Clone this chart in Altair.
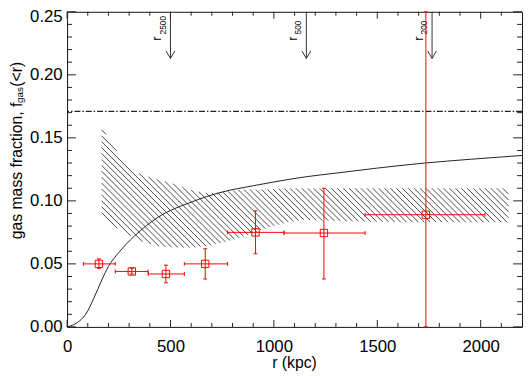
import altair as alt
import numpy as np
import pandas as pd

# ---------------- data ----------------
# measured points (red squares with error bars)
R_PT = [154, 313, 478, 668, 911, 1242, 1735]
F_PT = [0.050, 0.044, 0.042, 0.050, 0.075, 0.0745, 0.089]
R_LO = [79, 233, 392, 567, 776, 1049, 1441]
R_HI = [233, 392, 567, 776, 1049, 1441, 2021]
F_LO = [0.0465, 0.042, 0.035, 0.038, 0.058, 0.038, 0.0]
F_HI = [0.054, 0.0465, 0.049, 0.062, 0.092, 0.110, 0.25]

# model curve (solid black)
R_CURVE = [0, 50, 90, 130, 170, 200, 250, 325, 440, 600, 750, 900, 1000, 1150, 1300, 1500, 1730, 1950, 2200]
F_CURVE = [0.0, 0.0035, 0.010, 0.023, 0.038, 0.048, 0.059, 0.072, 0.087, 0.099, 0.107, 0.112, 0.115,
           0.119, 0.122, 0.126, 0.130, 0.133, 0.136]

# hatched band
R_BAND = [167, 200, 254, 286, 357, 437, 516, 611, 690, 754, 841, 976, 1071, 1143, 1300, 1600, 1900, 2135]
BAND_TOP = [0.158, 0.150, 0.136, 0.128, 0.121, 0.117, 0.1135, 0.108, 0.106, 0.107, 0.109, 0.109, 0.110,
            0.110, 0.110, 0.110, 0.110, 0.110]
BAND_BOT = [0.087, 0.083, 0.077, 0.074, 0.068, 0.064, 0.063, 0.063, 0.0645, 0.067, 0.071, 0.079, 0.083,
            0.085, 0.084, 0.083, 0.083, 0.083]

# cosmic baryon fraction line (dash-dot)
F_BARYON = [0.171]

# radius markers
R_MARK = [500, 1157, 1765]
MARK_SUB = ["2500", "500", "200"]
ARROW_TIP = 0.213

# axes
X_MAJOR = [0, 500, 1000, 1500, 2000]
X_MINOR = [v for v in range(100, 2200, 100) if v % 500 != 0]
Y_MAJOR = [0.0, 0.05, 0.10, 0.15, 0.20, 0.25]
Y_MINOR = [round(0.01 * i, 2) for i in range(1, 25) if i % 5 != 0]
X_TITLE = ["r (kpc)"]
Y_TITLE = ["gas mass fraction, f", "gas", "(<r)"]

# ---------------- layout ----------------
W, H = 462, 320
FONT = "Liberation Sans"
RED = "#ff0000"
XMAX, YMAX = 2200, 0.25

xs = alt.Scale(domain=[0, XMAX], nice=False, zero=False)
ys = alt.Scale(domain=[0, YMAX], nice=False, zero=False)
xaxis = alt.Axis(values=X_MAJOR, format="d", title=None, ticks=False, domain=False, grid=False,
                 labelFontSize=17, labelFont=FONT, labelColor="black", labelPadding=12,
                 labelFlush=False, labelOverlap=False)
yaxis = alt.Axis(values=Y_MAJOR, format=".2f", title=None, ticks=False, domain=False, grid=False,
                 labelFontSize=17, labelFont=FONT, labelColor="black", labelPadding=5,
                 labelFlush=False, labelOverlap=False,
                 labelOffset={"condition": {"test": "datum.value >= 0.249", "value": 5}, "value": 0})


def X(f):
    return alt.X(f, type="quantitative", scale=xs, axis=xaxis)


def Y(f):
    return alt.Y(f, type="quantitative", scale=ys, axis=yaxis)


# ---------------- hatching segments clipped to the band ----------------
kx, ky = W / XMAX, H / YMAX
rr = np.arange(R_BAND[0], R_BAND[-1] + 0.25, 0.25)
top_p = (YMAX - np.interp(rr, R_BAND, BAND_TOP)) * ky
bot_p = (YMAX - np.interp(rr, R_BAND, BAND_BOT)) * ky
xp = rr * kx
segs = []
for c in np.arange((top_p - xp).min(), (bot_p - xp).max(), 6.0):
    yl = xp + c
    inside = ((yl >= top_p) & (yl <= bot_p)).astype(int)
    edges = np.flatnonzero(np.diff(np.concatenate([[0], inside, [0]])))
    for s, e in zip(edges[::2], edges[1::2]):
        e = e - 1
        if e > s:
            segs.append((rr[s], YMAX - yl[s] / ky, rr[e], YMAX - yl[e] / ky))
hatch_df = pd.DataFrame(segs, columns=["r1", "f1", "r2", "f2"])

hatch = alt.Chart(hatch_df).mark_rule(color="#333333", strokeWidth=0.9).encode(
    x=X("r1"), y=Y("f1"), x2="r2", y2="f2")

curve = alt.Chart(pd.DataFrame({"r": R_CURVE, "f": F_CURVE})).mark_line(
    color="#222222", strokeWidth=1, interpolate="monotone").encode(x=X("r"), y=Y("f"))

baryon = alt.Chart(pd.DataFrame({"f": F_BARYON})).mark_rule(
    color="#222222", strokeWidth=1.3, strokeDash=[6, 2, 1.5, 2]).encode(y=Y("f"))

mk = pd.DataFrame({"r": R_MARK, "top": [YMAX] * 3, "tip": [ARROW_TIP] * 3, "sub": MARK_SUB,
                   "lr": ["r"] * 3, "fr": [0.227] * 3, "fs": [0.232] * 3})
arrow_line = alt.Chart(mk).mark_rule(color="#333333", strokeWidth=1).encode(
    x=X("r"), y=Y("top"), y2="tip")
arrow_head = alt.Chart(mk).mark_point(
    shape="M -1 -1.7 L 0 0 L 1 -1.7", filled=False, size=81, color="#333333",
    strokeWidth=1, opacity=1).encode(x=X("r"), y=Y("tip"))
r_text = alt.Chart(mk).mark_text(
    angle=270, align="left", baseline="alphabetic", dy=-9.5, fontSize=13, font=FONT,
    color="black").encode(x=X("r"), y=Y("fr"), text="lr:N")
sub_text = alt.Chart(mk).mark_text(
    angle=270, align="left", baseline="alphabetic", dy=-5, fontSize=8.5, font=FONT,
    color="black").encode(x=X("r"), y=Y("fs"), text="sub:N")

pts = pd.DataFrame({"r": R_PT, "f": F_PT, "rlo": R_LO, "rhi": R_HI, "flo": F_LO, "fhi": F_HI})
xerr = alt.Chart(pts).mark_rule(color=RED, strokeWidth=1).encode(x=X("rlo"), x2="rhi", y=Y("f"))
yerr = alt.Chart(pts).mark_rule(color=RED, strokeWidth=1).encode(x=X("r"), y=Y("flo"), y2="fhi")
cap_l = alt.Chart(pts).mark_tick(color=RED, orient="vertical", size=4, thickness=1, opacity=1).encode(
    x=X("rlo"), y=Y("f"))
cap_r = alt.Chart(pts).mark_tick(color=RED, orient="vertical", size=4, thickness=1, opacity=1).encode(
    x=X("rhi"), y=Y("f"))
cap_b = alt.Chart(pts).mark_tick(color=RED, orient="horizontal", size=4, thickness=1, opacity=1).encode(
    x=X("r"), y=Y("flo"))
cap_t = alt.Chart(pts).mark_tick(color=RED, orient="horizontal", size=4, thickness=1, opacity=1).encode(
    x=X("r"), y=Y("fhi"))
squares = alt.Chart(pts).mark_point(shape="square", size=56, filled=False, color=RED,
                                    strokeWidth=1, opacity=1).encode(x=X("r"), y=Y("f"))

# inward ticks on all four sides
xt = pd.DataFrame({"v": X_MAJOR + X_MINOR, "len": [7] * len(X_MAJOR) + [4] * len(X_MINOR)})
yt = pd.DataFrame({"v": Y_MAJOR + Y_MINOR, "len": [9] * len(Y_MAJOR) + [5] * len(Y_MINOR)})
tick_layers = []
for ln, grp in xt.groupby("len"):
    tick_layers.append(alt.Chart(grp).mark_rule(color="#222222", strokeWidth=1).encode(
        x=X("v"), y=alt.value(H), y2=alt.value(H - ln)))
    tick_layers.append(alt.Chart(grp).mark_rule(color="#222222", strokeWidth=1).encode(
        x=X("v"), y=alt.value(0), y2=alt.value(ln)))
for ln, grp in yt.groupby("len"):
    tick_layers.append(alt.Chart(grp).mark_rule(color="#222222", strokeWidth=1).encode(
        y=Y("v"), x=alt.value(0), x2=alt.value(ln)))
    tick_layers.append(alt.Chart(grp).mark_rule(color="#222222", strokeWidth=1).encode(
        y=Y("v"), x=alt.value(W), x2=alt.value(W - ln)))

# axis titles (y title has a subscript, so it is composed of three text pieces)
xtitle = alt.Chart(pd.DataFrame({"t": X_TITLE})).mark_text(
    fontSize=16, font=FONT, color="black", align="center", baseline="alphabetic").encode(
    text="t:N", x=alt.value(W / 2), y=alt.value(H + 42))
yt_df = pd.DataFrame({"t": Y_TITLE})
yt1 = alt.Chart(yt_df.iloc[[0]]).mark_text(
    fontSize=16, font=FONT, color="black", angle=270, align="left", baseline="alphabetic").encode(
    text="t:N", x=alt.value(-45.5), y=alt.value(231))
yt2 = alt.Chart(yt_df.iloc[[1]]).mark_text(
    fontSize=10, font=FONT, color="black", angle=270, align="left", baseline="alphabetic").encode(
    text="t:N", x=alt.value(-44.5), y=alt.value(92.5))
yt3 = alt.Chart(yt_df.iloc[[2]]).mark_text(
    fontSize=16, font=FONT, color="black", angle=270, align="left", baseline="alphabetic").encode(
    text="t:N", x=alt.value(-45.5), y=alt.value(76))

chart = alt.layer(
    hatch, curve, baryon, arrow_line, arrow_head, r_text, sub_text,
    xerr, yerr, cap_l, cap_r, cap_b, cap_t, squares,
    *tick_layers, xtitle, yt1, yt2, yt3
).properties(
    width=W, height=H,
    autosize=alt.AutoSizeParams(type="none"),
    padding={"left": 60, "top": 1, "right": 2, "bottom": 47},
    background="white",
).configure_view(stroke="#111111", strokeWidth=1)

chart.save("out.html", embed_options={"renderer": "svg", "actions": False})
